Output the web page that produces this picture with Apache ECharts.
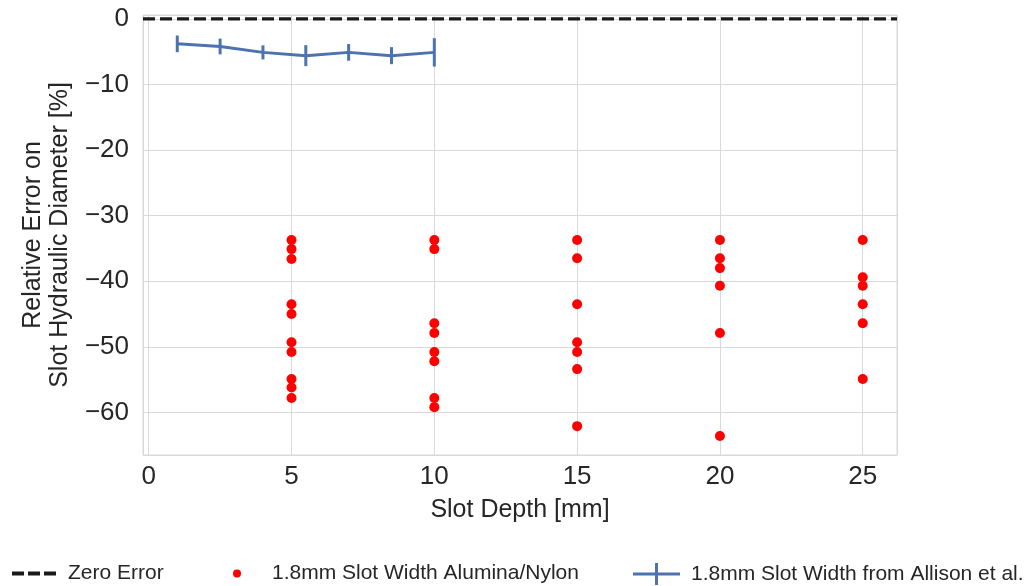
<!DOCTYPE html>
<html>
<head>
<meta charset="utf-8">
<script src="https://cdn.jsdelivr.net/npm/echarts@6/dist/echarts.min.js"></script>
<style>
html,body{margin:0;padding:0;background:#fff;}
#chart{width:1035px;height:586px;}
</style>
</head>
<body>
<div id="chart"></div>
<script>
// ---- data ----
var seriesNames = ['Zero Error', '1.8mm Slot Width Alumina/Nylon', '1.8mm Slot Width from Allison et al.'];
var xAxisTitle = 'Slot Depth [mm]';
var yAxisTitle = 'Relative Error on\nSlot Hydraulic Diameter [%]';

// measured points (Alumina/Nylon), by slot depth
var depths = [5, 10, 15, 20, 25];
var errDepth5  = [-33.7, -35.1, -36.6, -43.5, -45.0, -49.3, -50.8, -54.9, -56.2, -57.8];
var errDepth10 = [-33.7, -35.1, -46.4, -47.9, -50.8, -52.2, -57.8, -59.2];
var errDepth15 = [-33.7, -36.5, -43.5, -49.3, -50.8, -53.4, -62.1];
var errDepth20 = [-33.7, -36.5, -38.0, -40.7, -47.9, -63.6];
var errDepth25 = [-33.7, -39.4, -40.7, -43.5, -46.4, -54.9];

// Allison et al. (mean with error bar half-width)
var allisonDepth = [1, 2.5, 4, 5.5, 7, 8.5, 10];
var allisonErr   = [-3.8, -4.2, -5.1, -5.6, -5.1, -5.6, -5.1];
var allisonBar   = [1.27, 1.2, 1.07, 1.6, 1.27, 1.3, 2.16];

// zero reference line
var zeroLineX = [-0.2, 26.2];
var zeroLineY = [0, 0];

// axis ranges
var xMin = -0.2, xMax = 26.2;
var yMin = -66.5, yMax = 0.6;

// ---- build ----
var groups = [errDepth5, errDepth10, errDepth15, errDepth20, errDepth25];
var scatterData = [];
groups.forEach(function (g, i) {
  g.forEach(function (v) { scatterData.push([depths[i], v]); });
});
var allisonData = allisonDepth.map(function (x, i) { return [x, allisonErr[i]]; });
var allisonBarData = allisonDepth.map(function (x, i) { return [x, allisonErr[i], allisonBar[i]]; });
var zeroData = zeroLineX.map(function (x, i) { return [x, zeroLineY[i]]; });

var FONT = '"Liberation Sans", Arial, sans-serif';
var TXT = '#262626';
var GRIDC = '#d9d9d9';
function fmt(v) { return String(v).replace('-', '\u2212'); }

var chart = echarts.init(document.getElementById('chart'), null, {renderer: 'canvas'});
var option = {
  animation: false,
  textStyle: {fontFamily: FONT, color: TXT},
  grid: {
    left: 143, top: 15, width: 754, height: 440,
    show: true, borderColor: GRIDC, borderWidth: 1, backgroundColor: '#fff'
  },
  xAxis: {
    type: 'value', min: xMin, max: xMax, minInterval: 5, maxInterval: 5,
    axisLine: {show: false}, axisTick: {show: false},
    splitLine: {show: true, lineStyle: {color: GRIDC, width: 1}},
    axisLabel: {fontSize: 26, color: TXT, fontFamily: FONT, margin: 9,
      showMinLabel: false, showMaxLabel: false, formatter: fmt},
    name: xAxisTitle, nameLocation: 'middle', nameGap: 43,
    nameTextStyle: {fontSize: 25, color: TXT, fontFamily: FONT}
  },
  yAxis: {
    type: 'value', min: yMin, max: yMax, minInterval: 10, maxInterval: 10,
    axisLine: {show: false}, axisTick: {show: false},
    splitLine: {show: true, lineStyle: {color: GRIDC, width: 1}},
    axisLabel: {fontSize: 26, color: TXT, fontFamily: FONT, margin: 14,
      showMinLabel: false, showMaxLabel: false, formatter: fmt},
    name: yAxisTitle, nameLocation: 'middle', nameGap: 69, nameRotate: 90,
    nameTextStyle: {fontSize: 25, color: TXT, fontFamily: FONT, lineHeight: 27, align: 'center'}
  },
  legend: [
    {
      left: 7, top: 558, itemWidth: 44, itemHeight: 4, symbolKeepAspect: false,
      data: [{name: seriesNames[0], icon: 'path://M0,0h12v4h-12z M16,0h12v4h-12z M32,0h12v4h-12z'}],
      textStyle: {fontSize: 21, color: TXT, fontFamily: FONT, padding: [0, 0, 0, 7]}
    },
    {
      left: 228, top: 558, itemWidth: 8, itemHeight: 8,
      data: [{name: seriesNames[1], icon: 'circle'}],
      textStyle: {fontSize: 21, color: TXT, fontFamily: FONT, padding: [0, 0, 0, 26]}
    },
    {
      left: 628, top: 558, itemWidth: 47, itemHeight: 22, symbolKeepAspect: false,
      data: [{name: seriesNames[2], icon: 'path://M0,9.5h47v3h-47z M22,0h3v22h-3z'}],
      textStyle: {fontSize: 21, color: TXT, fontFamily: FONT, padding: [0, 0, 0, 6]}
    }
  ],
  series: [
    {
      name: seriesNames[0], type: 'line', data: zeroData, symbol: 'none',
      color: '#1a1a1a', z: 5,
      lineStyle: {color: '#1a1a1a', width: 3.2, type: [12, 5]}
    },
    {
      name: seriesNames[1], type: 'scatter', data: scatterData,
      symbolSize: 10, color: '#ff0000', z: 4,
      itemStyle: {color: '#ff0000', opacity: 1}
    },
    {
      name: seriesNames[2], type: 'line', data: allisonData, symbol: 'none',
      color: '#4c72b0', z: 3,
      lineStyle: {color: '#4c72b0', width: 3}
    },
    {
      name: seriesNames[2], type: 'custom', data: allisonBarData, z: 3,
      color: '#4c72b0',
      renderItem: function (params, api) {
        var x = api.value(0), y = api.value(1), e = api.value(2);
        var p1 = api.coord([x, y - e]);
        var p2 = api.coord([x, y + e]);
        return {
          type: 'line',
          shape: {x1: p1[0], y1: p1[1], x2: p2[0], y2: p2[1]},
          style: {stroke: '#4c72b0', lineWidth: 3}
        };
      }
    }
  ]
};
chart.setOption(option);
</script>
</body>
</html>
